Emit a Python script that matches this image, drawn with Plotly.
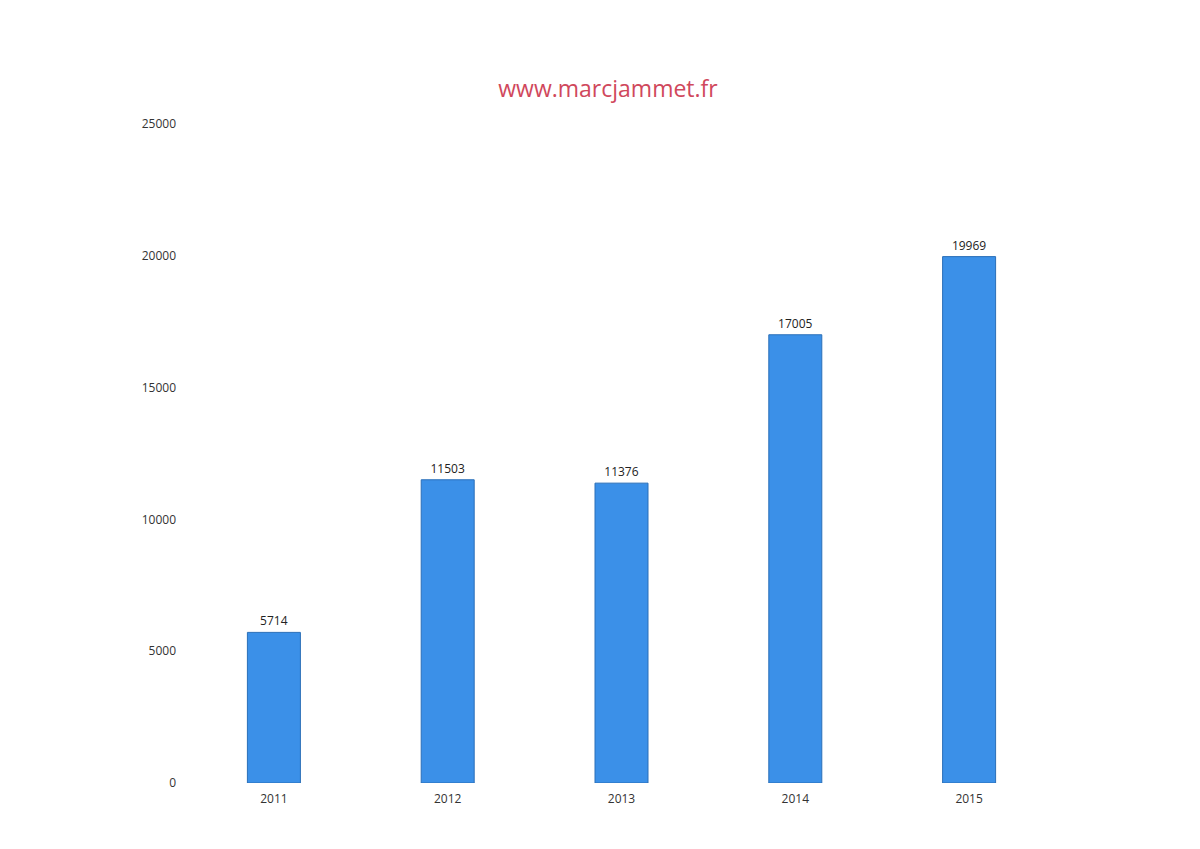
import plotly.graph_objects as go

years = ["2011", "2012", "2013", "2014", "2015"]
values = [5714, 11503, 11376, 17005, 19969]
y_ticks = [0, 5000, 10000, 15000, 20000, 25000]

fig = go.Figure(go.Bar(
    x=years, y=values,
    text=[str(v) for v in values], textposition="outside",
    textfont=dict(family="Open Sans, Liberation Sans, sans-serif", size=12, color="#222222"),
    marker=dict(color="#3b90e8", line=dict(color="#2a6fb8", width=1)),
    cliponaxis=False,
))

fig.update_layout(
    width=1200, height=849,
    paper_bgcolor="white", plot_bgcolor="white",
    margin=dict(l=179, r=152, t=116, b=74),
    bargap=0.695,
    showlegend=False,
    title=dict(text="www.marcjammet.fr", x=0.5, xanchor="center", y=0.905, yanchor="middle",
               font=dict(family="Open Sans, Liberation Sans, sans-serif", size=23, color="#d0485c")),
    xaxis=dict(showgrid=False, showline=False, zeroline=False, ticks="", ticklabelstandoff=7,
               tickfont=dict(family="Open Sans, Liberation Sans, sans-serif", size=12, color="#333333")),
    yaxis=dict(range=[0, 25000], tickvals=y_ticks, ticktext=[str(t) for t in y_ticks],
               showgrid=False, showline=False, zeroline=False, ticks="", ticklabelstandoff=10,
               tickfont=dict(family="Open Sans, Liberation Sans, sans-serif", size=12, color="#333333")),
)

fig.write_html("out.html")
